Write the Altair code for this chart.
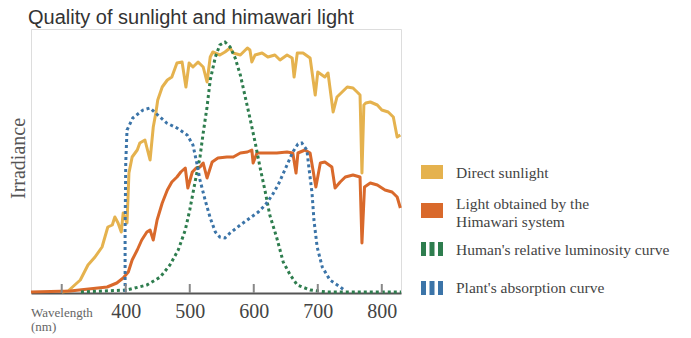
import altair as alt
import pandas as pd

# ---- data (wavelength in nm, irradiance in arbitrary units) ----
sun_wl = [300, 310, 329, 341, 352, 363, 372, 379, 383, 388, 393, 396, 402, 405, 410, 418, 422, 430, 438, 443,
          447, 450, 457, 465, 472, 480, 488, 494, 499, 505, 513, 521, 527, 532, 536, 547, 555, 563, 568, 579,
          590, 594, 597, 602, 613, 622, 633, 641, 652, 660, 663, 668, 677, 688, 696, 700, 711, 716, 724, 730,
          738, 746, 755, 763, 766, 769, 772, 775, 782, 793, 800, 810, 818, 824, 829]
sun_val = [1, 2, 13, 28, 36, 46, 66, 68, 76, 70, 61, 80, 70, 120, 136, 143, 150, 153, 133, 166,
           180, 193, 206, 213, 216, 230, 231, 206, 230, 226, 231, 226, 211, 236, 241, 238, 241, 245, 240, 238,
           245, 243, 231, 238, 240, 236, 238, 233, 238, 235, 216, 240, 240, 235, 198, 221, 216, 220, 181, 196,
           201, 206, 205, 200, 198, 120, 188, 190, 191, 188, 183, 181, 176, 156, 158]

him_wl = [252, 313, 371, 386, 396, 404, 410, 418, 425, 433, 438, 443, 449, 457, 465, 472, 480, 486, 493, 497,
          504, 510, 516, 521, 527, 535, 544, 558, 568, 579, 590, 597, 599, 605, 621, 636, 652, 661, 666, 669,
          680, 688, 697, 704, 711, 722, 727, 735, 743, 755, 766, 769, 773, 782, 793, 805, 816, 824, 829]
him_val = [1, 2, 6, 10, 15, 21, 33, 43, 53, 61, 63, 53, 73, 90, 103, 111, 116, 121, 125, 105,
           121, 125, 126, 130, 115, 131, 135, 136, 136, 140, 141, 143, 130, 140, 140, 140, 141, 140, 120, 140,
           143, 140, 106, 130, 131, 126, 105, 111, 116, 118, 116, 50, 106, 110, 108, 103, 101, 96, 85]

lum_wl = [330, 402, 433, 454, 469, 482, 493, 500, 508, 516, 521, 527, 532, 540, 547, 555, 563, 571, 579, 586,
          594, 602, 610, 618, 625, 636, 646, 657, 668, 688, 714, 830]
lum_val = [1, 3, 8, 16, 28, 43, 63, 83, 110, 136, 160, 186, 213, 236, 248, 251, 246, 235, 218, 198,
           175, 151, 125, 101, 78, 55, 31, 18, 8, 3, 1, 1]

abs_wl = [399, 399, 400, 402, 411, 427, 438, 450, 464, 480, 496, 505, 511, 516, 524, 532, 540, 547, 555, 563,
          579, 594, 607, 618, 629, 638, 652, 661, 669, 675, 683, 686, 691, 694, 699, 707, 719, 735, 743]
abs_val = [1, 63, 130, 163, 175, 183, 185, 178, 170, 165, 158, 148, 130, 113, 93, 75, 61, 56, 55, 60,
           68, 75, 81, 88, 98, 108, 128, 141, 149, 150, 143, 126, 100, 73, 46, 26, 13, 6, 2]

tick_wl = [300, 400, 500, 600, 700, 800]
label_wl = [400, 500, 600, 700, 800]

title_text = "Quality of sunlight and himawari light"
legend_labels = ["Direct sunlight", "Light obtained by the", "Himawari system",
                 "Human's relative luminosity curve", "Plant's absorption curve"]

YEL = "#E5B24E"
ORG = "#D9692B"
GRN = "#2E7D4E"
BLU = "#3B74A8"
SERIF = "Liberation Serif"


def frame(wl, val):
    return pd.DataFrame({"wl": wl, "val": val, "i": list(range(len(wl)))})


x_enc = alt.X("wl:Q", scale=alt.Scale(domain=[252, 830], nice=False, zero=False),
              axis=alt.Axis(values=label_wl, title=None, grid=False, ticks=False, tickSize=0,
                            labelFont=SERIF, labelFontSize=20, labelColor="#444", labelPadding=8,
                            domainColor="#555", domainWidth=2, labelFlush=False))
y_enc = alt.Y("val:Q", scale=alt.Scale(domain=[0, 264], nice=False),
              axis=alt.Axis(title="Irradiance", labels=False, ticks=False, domain=False, grid=False,
                            titleFont=SERIF, titleFontSize=20, titleFontWeight="normal", titleColor="#555",
                            titleX=-13, titleY=129, titleAngle=-90, titleAlign="center",
                            titleBaseline="middle"))

sun = alt.Chart(frame(sun_wl, sun_val)).mark_line(color=YEL, strokeWidth=3, strokeJoin="round").encode(
    x=x_enc, y=y_enc, order="i:Q")
him = alt.Chart(frame(him_wl, him_val)).mark_line(color=ORG, strokeWidth=3, strokeJoin="round").encode(
    x=x_enc, y=y_enc, order="i:Q")
lum = alt.Chart(frame(lum_wl, lum_val)).mark_line(color=GRN, strokeWidth=3, strokeDash=[3, 3],
                                                  strokeCap="butt").encode(x=x_enc, y=y_enc, order="i:Q")
absc = alt.Chart(frame(abs_wl, abs_val)).mark_line(color=BLU, strokeWidth=3, strokeDash=[3, 3],
                                                   strokeCap="butt").encode(x=x_enc, y=y_enc, order="i:Q")

ticks = alt.Chart(pd.DataFrame({"wl": tick_wl})).mark_rule(color="#888", strokeWidth=2).encode(
    x="wl:Q", y=alt.value(255), y2=alt.value(264))

one = pd.DataFrame({"a": [0]})


def text_layer(txt, x, y, size, color="#444", font=SERIF):
    return alt.Chart(one).mark_text(text=txt, align="left", baseline="alphabetic", font=font,
                                    fontSize=size, color=color).encode(x=alt.value(x), y=alt.value(y))


def swatch(color, y0, y1):
    return alt.Chart(one).mark_rect(color=color).encode(
        x=alt.value(390), x2=alt.value(412), y=alt.value(y0), y2=alt.value(y1))


def bars(color, yc):
    return alt.Chart(one).mark_rule(color=color, strokeWidth=14, strokeDash=[5, 3.5], strokeCap="butt").encode(
        x=alt.value(390), x2=alt.value(413), y=alt.value(yc), y2=alt.value(yc))


legend = [
    swatch(YEL, 136, 150), text_layer(legend_labels[0], 425, 149, 15.5),
    swatch(ORG, 174, 189), text_layer(legend_labels[1], 425, 180, 15.5),
    text_layer(legend_labels[2], 425, 198, 15.5),
    bars(GRN, 220), text_layer(legend_labels[3], 425, 226, 15.5),
    bars(BLU, 259), text_layer(legend_labels[4], 425, 264, 15.5),
    text_layer("Wavelength", 0, 288, 13, "#666"),
    text_layer("(nm)", 0, 302, 13, "#666"),
    text_layer(title_text, -3, -5, 20, "#333", "Liberation Sans"),
]

chart = alt.layer(sun, him, lum, absc, ticks, *legend).properties(
    width=370, height=264,
    padding={"left": 23, "top": 21, "right": 280, "bottom": 41},
    autosize=alt.AutoSizeParams(type="none"),
).configure_view(stroke="#8c8c8c", strokeWidth=1.5).configure(background="white")

chart.save("out.html", embed_options={"renderer": "svg", "actions": False})
